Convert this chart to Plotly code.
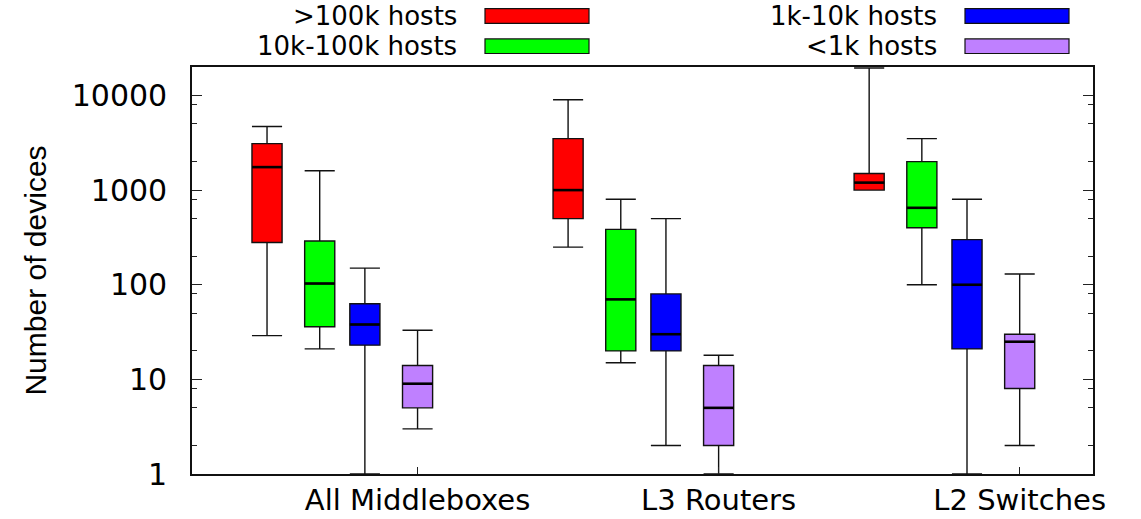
import math
import plotly.graph_objects as go

# Device-count distributions per network size class
categories = ["All Middleboxes", "L3 Routers", "L2 Switches"]
series_names = [">100k hosts", "10k-100k hosts", "1k-10k hosts", "<1k hosts"]

# Five-number summaries, one list per series, ordered like `categories`
lower_whisker = [
    [29, 250, 1000],
    [21, 15, 100],
    [1, 2, 1],
    [3, 1, 2],
]
q1_values = [
    [280, 500, 1000],
    [36, 20, 400],
    [23, 20, 21],
    [5, 2, 8],
]
median_values = [
    [1750, 1000, 1200],
    [103, 70, 650],
    [38, 30, 100],
    [9, 5, 25],
]
q3_values = [
    [3100, 3500, 1500],
    [290, 385, 2000],
    [63, 80, 300],
    [14, 14, 30],
]
upper_whisker = [
    [4700, 9000, 19500],
    [1600, 800, 3500],
    [150, 500, 800],
    [33, 18, 130],
]

y_major_ticks = [1, 10, 100, 1000, 10000]

# Styling / placement
colors = ["#ff0000", "#00ff00", "#0000ff", "#bf80ff"]
offsets = [-0.5, -0.325, -0.175, 0.0]
box_width = 0.1
group_pos = [1, 2, 3]
y_max = 20000

W, H = 1141, 519
M_L, M_R, M_T, M_B = 192, 48, 67, 45
TICK_FONT = "DejaVu Sans, Verdana, sans-serif"

fig = go.Figure()

for i, name in enumerate(series_names):
    xs = [g + offsets[i] for g in group_pos]
    fig.add_trace(go.Box(
        name=name,
        x=xs,
        q1=q1_values[i],
        median=median_values[i],
        q3=q3_values[i],
        lowerfence=lower_whisker[i],
        upperfence=upper_whisker[i],
        width=box_width,
        whiskerwidth=1,
        fillcolor=colors[i],
        line=dict(color="#111111", width=1.4),
        boxpoints=False,
        showlegend=False,
    ))
    # heavier median bar on top of each box
    mx, my = [], []
    for x, m in zip(xs, median_values[i]):
        mx += [x - box_width / 2, x + box_width / 2, None]
        my += [m, m, None]
    fig.add_trace(go.Scatter(
        x=mx, y=my, mode="lines",
        line=dict(color="black", width=2.6),
        hoverinfo="skip", showlegend=False,
    ))

# Minor ticks at 2, 5 and 8 of every decade
minor_vals = []
for d in range(0, 5):
    for m in (2, 5, 8):
        v = m * 10 ** d
        if v <= y_max:
            minor_vals.append(v)

fig.update_layout(
    width=W, height=H,
    margin=dict(l=M_L, r=M_R, t=M_T, b=M_B, pad=0),
    paper_bgcolor="white", plot_bgcolor="white",
    template="none",
    boxmode="overlay",
    showlegend=False,
    font=dict(family=TICK_FONT, color="black"),
)

fig.update_xaxes(
    range=[0.2508, 3.2435],
    tickmode="array",
    tickvals=group_pos,
    ticktext=categories,
    ticks="inside", ticklen=7, tickwidth=1.2, tickcolor="#222",
    tickfont=dict(family=TICK_FONT, size=29, color="black"),
    ticklabelstandoff=-1,
    showline=True, linecolor="#111", linewidth=1.6, mirror=True,
    showgrid=False, zeroline=False, automargin=False,
)

fig.update_yaxes(
    type="log",
    range=[0, math.log10(y_max)],
    tickmode="array",
    tickvals=y_major_ticks,
    ticktext=[str(v) for v in y_major_ticks],
    ticks="inside", ticklen=10, tickwidth=1.2, tickcolor="#222",
    minor=dict(tickmode="array", tickvals=minor_vals, ticks="inside",
               ticklen=5, tickwidth=1.2, tickcolor="#222", showgrid=False),
    tickfont=dict(family=TICK_FONT, size=30, color="black"),
    ticklabelstandoff=17,
    showline=True, linecolor="#111", linewidth=1.6, mirror="ticks",
    showgrid=False, zeroline=False, automargin=False,
    title=dict(text="Number of devices",
               font=dict(family="Liberation Sans, Arial, sans-serif", size=30, color="black"),
               standoff=16),
)

# Legend: right-aligned labels followed by colour swatches, two columns
plot_w = W - M_L - M_R
plot_h = H - M_T - M_B


def px_x(px):
    return (px - M_L) / plot_w


def px_y(py):
    return (H - M_B - py) / plot_h


legend_slots = [
    (458, 485, 589, 16.0),
    (458, 485, 589, 46.2),
    (938, 965, 1069, 16.0),
    (938, 965, 1069, 46.2),
]
for i, name in enumerate(series_names):
    text_right, sx0, sx1, cy = legend_slots[i]
    fig.add_annotation(
        x=px_x(text_right), y=px_y(cy), xref="paper", yref="paper",
        text=name, showarrow=False, xanchor="right", yanchor="middle",
        font=dict(family=TICK_FONT, size=26, color="black"),
        borderpad=0,
    )
    fig.add_shape(
        type="rect", xref="paper", yref="paper",
        x0=px_x(sx0), x1=px_x(sx1), y0=px_y(cy + 7.3), y1=px_y(cy - 7.3),
        fillcolor=colors[i], line=dict(color="#111", width=1.2),
    )

fig.write_html("out.html")
